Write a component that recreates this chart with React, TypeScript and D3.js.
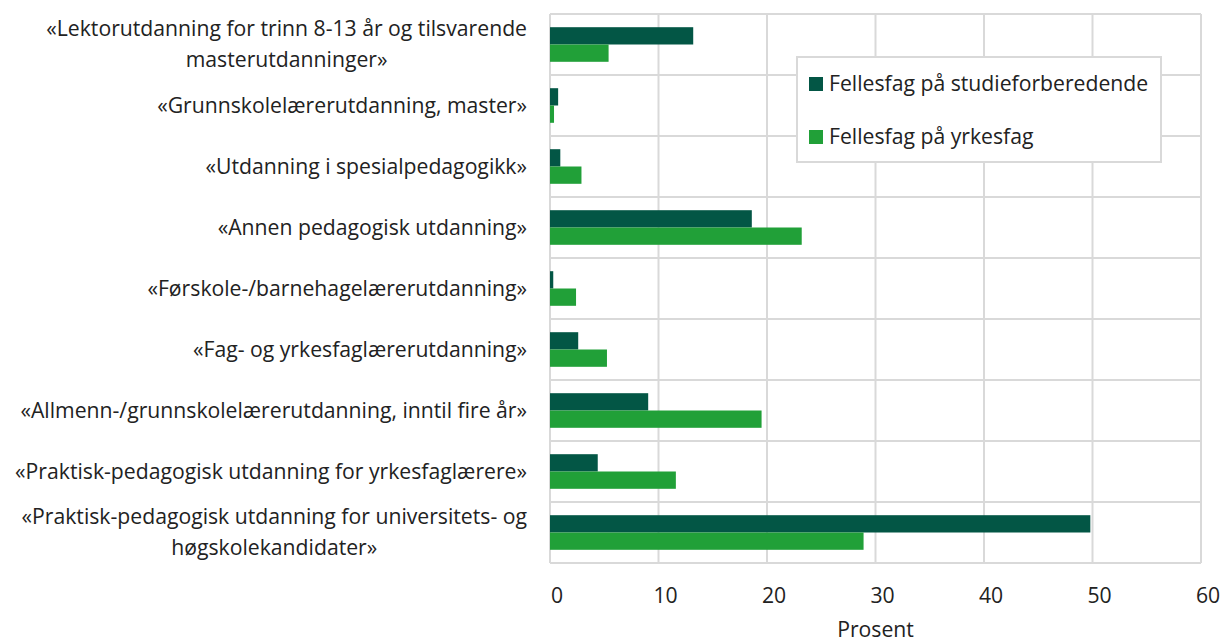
import React, { useEffect, useRef } from "react";
import * as d3 from "d3";

const categories: string[] = [
  "«Lektorutdanning for trinn 8-13 år og tilsvarende\nmasterutdanninger»",
  "«Grunnskolelærerutdanning, master»",
  "«Utdanning i spesialpedagogikk»",
  "«Annen pedagogisk utdanning»",
  "«Førskole-/barnehagelærerutdanning»",
  "«Fag- og yrkesfaglærerutdanning»",
  "«Allmenn-/grunnskolelærerutdanning, inntil fire år»",
  "«Praktisk-pedagogisk utdanning for yrkesfaglærere»",
  "«Praktisk-pedagogisk utdanning for universitets- og\nhøgskolekandidater»",
];

const seriesNames: string[] = ["Fellesfag på studieforberedende", "Fellesfag på yrkesfag"];
const studieforberedende: number[] = [13.2, 0.75, 0.95, 18.6, 0.3, 2.6, 9.05, 4.4, 49.8];
const yrkesfag: number[] = [5.4, 0.37, 2.9, 23.2, 2.4, 5.25, 19.5, 11.6, 28.9];
const xTicks: number[] = [0, 10, 20, 30, 40, 50, 60];
const xTitle = "Prosent";

const COLORS = ["#035645", "#21a038"];
const FONT = "'Open Sans', 'Noto Sans', sans-serif";
const FS = 21.2;

export default function App() {
  const ref = useRef<SVGSVGElement | null>(null);

  useEffect(() => {
    const svg = d3.select(ref.current);
    svg.selectAll("*").remove();

    const left = 550, right = 1201, top = 14, bottom = 563;
    const x = d3.scaleLinear().domain([0, 60]).range([left, right]);
    const y = d3.scaleBand<number>().domain(d3.range(categories.length)).range([top, bottom]);
    const inner = d3.scaleBand<number>().domain([0, 1]).range([0, 34.6]);
    const groupOffset = (y.bandwidth() - 34.6) / 2;

    const grid = svg.append("g");
    const bounds = d3.range(categories.length + 1).map((i) => top + i * y.step());
    grid.selectAll("line.h").data(bounds).join("line")
      .attr("x1", left).attr("x2", right)
      .attr("y1", (d) => d).attr("y2", (d) => d)
      .attr("stroke", "#d9d9d9").attr("stroke-width", 2);
    grid.selectAll("line.v").data(xTicks).join("line")
      .attr("x1", (d) => x(d)).attr("x2", (d) => x(d))
      .attr("y1", top).attr("y2", bottom)
      .attr("stroke", "#d9d9d9").attr("stroke-width", 2);

    const series = [studieforberedende, yrkesfag];
    series.forEach((vals, s) => {
      svg.append("g").selectAll("rect").data(vals).join("rect")
        .attr("x", x(0))
        .attr("y", (_d, i) => (y(i) as number) + groupOffset + (inner(s) as number))
        .attr("width", (d) => x(d) - x(0))
        .attr("height", inner.bandwidth())
        .attr("fill", COLORS[s]);
    });

    svg.append("g").selectAll("text").data(xTicks).join("text")
      .attr("x", (d) => x(d) + 7)
      .attr("y", 603)
      .attr("text-anchor", "middle")
      .attr("font-family", FONT)
      .attr("font-size", FS)
      .attr("fill", "#222")
      .text((d) => String(d));

    svg.append("text")
      .attr("x", (left + right) / 2)
      .attr("y", 637)
      .attr("text-anchor", "middle")
      .attr("font-family", FONT)
      .attr("font-size", FS)
      .attr("fill", "#222")
      .text(xTitle);

    const labelRight = 527;
    const lineH = 31;
    categories.forEach((c, i) => {
      const lines = c.split("\n");
      const cy = (y(i) as number) + y.bandwidth() / 2;
      const g = svg.append("g");
      const texts = lines.map((ln, k) =>
        g.append("text")
          .attr("y", cy + (k - (lines.length - 1) / 2) * lineH)
          .attr("dy", "0.35em")
          .attr("font-family", FONT)
          .attr("font-size", FS)
          .attr("fill", "#222")
          .text(ln)
      );
      const widths = texts.map((t) => (t.node() as SVGTextElement).getComputedTextLength());
      const maxW = Math.max(...widths);
      texts.forEach((t) => t.attr("text-anchor", "middle").attr("x", labelRight - maxW / 2));
    });

    const lg = svg.append("g");
    lg.append("rect")
      .attr("x", 797).attr("y", 57).attr("width", 364).attr("height", 105)
      .attr("fill", "#fff").attr("stroke", "#d9d9d9").attr("stroke-width", 2);
    seriesNames.forEach((n, s) => {
      const cy = 84 + s * 53;
      lg.append("rect").attr("x", 809).attr("y", cy - 7).attr("width", 14).attr("height", 14).attr("fill", COLORS[s]);
      lg.append("text")
        .attr("x", 829).attr("y", cy).attr("dy", "0.35em")
        .attr("font-family", FONT).attr("font-size", FS).attr("fill", "#222")
        .text(n);
    });
  }, []);

  return (
    <svg
      ref={ref}
      width={1223}
      height={641}
      style={{ position: "absolute", left: 0, top: 0, background: "#fff" }}
    />
  );
}
